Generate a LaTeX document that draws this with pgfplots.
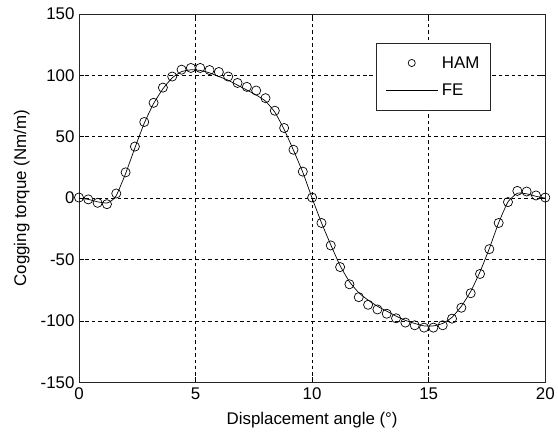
\documentclass[border=0pt]{standalone}
\usepackage{pgfplots}
\pgfplotsset{compat=1.18}
\usepackage{fontspec}
\setmainfont{Liberation Sans}
\newcommand{\lf}{\fontsize{17}{20}\selectfont}
\pgfplotsset{
  hamleg/.style={legend image code/.code={\draw[##1,mark size=3.6pt] plot coordinates {(26pt,0pt)};\path (0pt,0pt) (52pt,0pt);}},
  feleg/.style={legend image code/.code={\draw[##1] (0pt,0pt) -- (52pt,0pt);}},
}
\begin{document}
\begin{tikzpicture}
\begin{axis}[
  scale only axis,
  width=469.5pt, height=371pt,
  xmin=0, xmax=20, ymin=-150, ymax=150,
  xtick={0,5,10,15,20},
  ytick={-150,-100,-50,0,50,100,150},
  /pgf/number format/assume math mode=true,
  tick label style={font=\lf},
  label style={font=\lf},
  xticklabel style={yshift=-2pt},
  yticklabel style={xshift=-1pt},
  tick align=inside,
  major tick length=5pt,
  axis line style={black!85, line width=0.8pt},
  every tick/.style={black, line width=0.6pt},
  grid=major,
  major grid style={black, line width=0.6pt, dash pattern=on 3.5pt off 3pt},
  xlabel={Displacement angle (°)},
  ylabel={Cogging torque (Nm/m)},
  xlabel style={at={(axis description cs:0.5,-0.113)}, anchor=base},
  ylabel style={at={(axis description cs:-0.1225,0.5)}, anchor=center},
  legend style={at={(0.883,0.922)}, anchor=north east, draw=black!85, line width=0.8pt,
    fill=white, font=\lf, inner xsep=9pt, inner ysep=11.5pt, row sep=10pt, column sep=2pt,
    nodes={inner sep=2pt}},
  legend cell align=left,
]
\addplot[only marks, mark=o, mark size=4.6pt, black, line width=0.7pt, hamleg]
coordinates {
(0,0.5) (0.4,-1) (0.8,-3.8) (1.2,-4.9) (1.6,3.8) (2.0,21) (2.4,42) (2.8,62)
(3.2,77.6) (3.6,90) (4.0,99) (4.4,104.6) (4.8,106) (5.2,106) (5.6,104.3)
(6.0,102.7) (6.4,99) (6.8,93.8) (7.2,90.6) (7.6,87.6) (8.0,81.4) (8.4,71.2)
(8.8,57.1) (9.2,39.4) (9.6,21.6) (10.0,0.5) (10.4,-20.2) (10.8,-38.5)
(11.2,-56.1) (11.6,-70.1) (12.0,-80.6) (12.4,-86.8) (12.8,-90.6) (13.2,-94.1)
(13.6,-97.8) (14.0,-101.3) (14.4,-103.5) (14.8,-105.4) (15.2,-105.4)
(15.6,-103.5) (16.0,-98.1) (16.4,-89.2) (16.8,-77.4) (17.2,-61.7) (17.6,-41.5)
(18.0,-20.2) (18.4,-3.2) (18.8,5.9) (19.2,5.4) (19.6,2.2) (20.0,0.5)
};
\addlegendentry{HAM\hspace{7pt}}
\addplot[black, line width=0.7pt, smooth, tension=0.3, feleg]
coordinates {
(0,0) (0.4,-1) (0.8,-3) (1.2,-4) (1.4,-2) (1.6,2) (2.0,20) (2.4,41) (2.8,61)
(3.2,77) (3.6,89) (4.0,98) (4.4,103) (4.8,104.5) (5.2,104) (5.6,102) (6.0,99)
(6.4,96) (6.8,92) (7.2,88) (7.6,84) (8.0,79) (8.4,70) (8.8,56) (9.2,39)
(9.6,21) (10.0,0) (10.4,-20) (10.8,-38) (11.2,-55) (11.6,-68) (12.0,-77)
(12.4,-83) (12.8,-88) (13.2,-92) (13.6,-96) (14.0,-99.5) (14.4,-102)
(14.8,-104) (15.2,-104) (15.6,-102) (16.0,-97) (16.4,-88) (16.8,-76)
(17.2,-60) (17.6,-41) (18.0,-20) (18.4,-3) (18.8,4) (19.2,3.5) (19.6,1.5) (20,0)
};
\addlegendentry{FE}
\end{axis}
\path (current axis.south west) ++(-79.5pt,-49pt) rectangle ++(558pt,434pt);
\end{tikzpicture}
\end{document}
